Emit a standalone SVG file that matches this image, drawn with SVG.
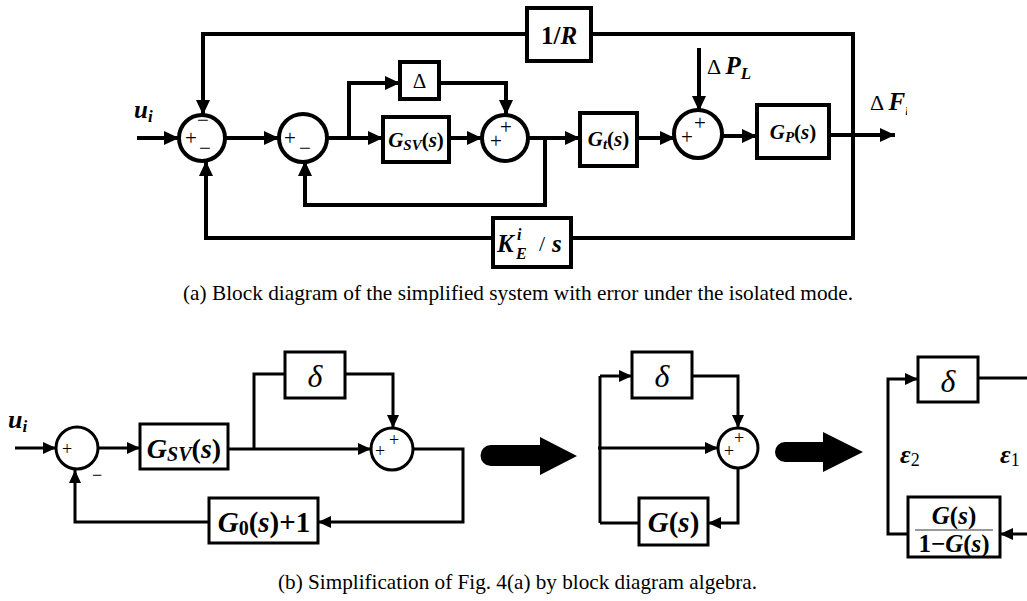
<svg xmlns="http://www.w3.org/2000/svg" width="1027" height="601" viewBox="0 0 1027 601" font-family="Liberation Serif, Times New Roman, serif">
<style>
.w{fill:none;stroke:#000;stroke-width:4}
.w3{fill:none;stroke:#000;stroke-width:3}
.box{fill:#fff;stroke:#000;stroke-width:4}
.box3{fill:#fff;stroke:#000;stroke-width:3}
text{font-family:'Liberation Serif',serif;fill:#000}
.b{font-weight:bold}
.i{font-style:italic}
.sg{font-size:21px}
.cap{font-size:21px}
</style>
<defs>
<marker id="a" markerUnits="userSpaceOnUse" markerWidth="15" markerHeight="14" refX="15" refY="7" orient="auto"><path d="M0,0 L15,7 L0,14 z" fill="#000"/></marker>
<marker id="a3" markerUnits="userSpaceOnUse" markerWidth="13" markerHeight="12" refX="13" refY="6" orient="auto"><path d="M0,0 L13,6 L0,12 z" fill="#000"/></marker>
<clipPath id="clipF"><rect x="860" y="80" width="47" height="40"/></clipPath>
</defs>

<!-- ===== (a) connectors ===== -->
<g id="connectors-a">
<path class="w" d="M137,138 H179" marker-end="url(#a)"/>
<path class="w" d="M226,138 H279" marker-end="url(#a)"/>
<path class="w" d="M327,138 H383" marker-end="url(#a)"/>
<path class="w" d="M349,138 V83 H400" marker-end="url(#a)"/>
<path class="w" d="M439,83 H506 V115" marker-end="url(#a)"/>
<path class="w" d="M449,138 H482" marker-end="url(#a)"/>
<path class="w" d="M528,138 H580" marker-end="url(#a)"/>
<path class="w" d="M545,138 V205 H305 V161" marker-end="url(#a)"/>
<path class="w" d="M637,138 H675" marker-end="url(#a)"/>
<path class="w" d="M699,48 V111" marker-end="url(#a)"/>
<path class="w" d="M721,136 H757" marker-end="url(#a)"/>
<path class="w" d="M829,135 H895" marker-end="url(#a)"/>
<path class="w" d="M853,135 V34 H591"/>
<path class="w" d="M527,34 H203 V115" marker-end="url(#a)"/>
<path class="w" d="M853,135 V238 H571"/>
<path class="w" d="M493,238 H206 V161" marker-end="url(#a)"/>
</g>

<!-- ===== (a) nodes ===== -->
<g id="sum1">
<circle class="w" cx="202" cy="138" r="23"/>
<text x="203" y="127" text-anchor="middle" class="sg">−</text>
<text x="191" y="145" text-anchor="middle" class="sg">+</text>
<text x="205" y="155" text-anchor="middle" class="sg">−</text>
</g>
<g id="sum2">
<circle class="w" cx="303" cy="138" r="24"/>
<text x="290" y="145" text-anchor="middle" class="sg">+</text>
<text x="305" y="155" text-anchor="middle" class="sg">−</text>
</g>
<g id="sum3">
<circle class="w" cx="505" cy="138" r="23"/>
<text x="496" y="148" text-anchor="middle" class="sg">+</text>
<text x="506" y="134" text-anchor="middle" class="sg">+</text>
</g>
<g id="sum4">
<circle class="w" cx="698" cy="134" r="24"/>
<text x="687" y="144" text-anchor="middle" class="sg">+</text>
<text x="700" y="130" text-anchor="middle" class="sg">+</text>
</g>
<g id="blk-1R">
<rect class="box" x="527" y="8" width="64" height="53"/>
<text x="559" y="44" text-anchor="middle" class="b" font-size="25">1/<tspan class="i">R</tspan></text>
</g>
<g id="blk-delta">
<rect class="box" x="400" y="62" width="39" height="37"/>
<text x="419.5" y="88" text-anchor="middle" font-size="21">Δ</text>
</g>
<g id="blk-gsv">
<rect class="box" x="383" y="117" width="66" height="45"/>
<text x="416" y="147" text-anchor="middle" class="b" font-size="21"><tspan class="i">G</tspan><tspan class="i" font-size="15" dy="3">SV</tspan><tspan dy="-3">(</tspan><tspan class="i">s</tspan>)</text>
</g>
<g id="blk-gt">
<rect class="box" x="580" y="113" width="57" height="53"/>
<text x="608.5" y="146" text-anchor="middle" class="b" font-size="21"><tspan class="i">G</tspan><tspan class="i" font-size="15" dy="3">t</tspan><tspan dy="-3">(</tspan><tspan class="i">s</tspan>)</text>
</g>
<g id="blk-gp">
<rect class="box" x="757" y="105" width="72" height="53"/>
<text x="793" y="139" text-anchor="middle" class="b" font-size="21"><tspan class="i">G</tspan><tspan class="i" font-size="15" dy="3">P</tspan><tspan dy="-3">(</tspan><tspan class="i">s</tspan>)</text>
</g>
<g id="blk-ke">
<rect class="box" x="493" y="218" width="78" height="49"/>
<text x="497" y="252" class="b i" font-size="25">K</text>
<text x="517" y="240" class="b i" font-size="16">i</text>
<text x="516" y="259" class="b i" font-size="16">E</text>
<text x="539" y="251" font-size="22">/</text>
<text x="552" y="252" class="b i" font-size="25">s</text>
</g>
<g id="lbl-ui-a">
<text x="134" y="118" class="b i" font-size="25">u<tspan font-size="17" dy="4">i</tspan></text>
</g>
<g id="lbl-dpl">
<text x="707" y="74" font-size="22">Δ <tspan class="b i" font-size="25">P</tspan><tspan class="b i" font-size="17" dy="5">L</tspan></text>
</g>
<g id="lbl-dfi" clip-path="url(#clipF)">
<text x="870" y="110" font-size="22">Δ <tspan class="b i" font-size="25">F</tspan><tspan class="b i" font-size="17" dy="5">i</tspan></text>
</g>

<text x="183" y="300" class="cap" textLength="670" lengthAdjust="spacingAndGlyphs">(a)  Block diagram of the simplified system with error under the isolated mode.</text>

<!-- ===== (b) connectors ===== -->
<g id="connectors-b">
<path class="w3" d="M15,448 H56" marker-end="url(#a3)"/>
<path class="w3" d="M98,448 H140" marker-end="url(#a3)"/>
<path class="w3" d="M228,449 H371" marker-end="url(#a3)"/>
<path class="w3" d="M254,449 V374 H285"/>
<path class="w3" d="M345,374 H393 V428" marker-end="url(#a3)"/>
<path class="w3" d="M413,449 H463 V522 H318" marker-end="url(#a3)"/>
<path class="w3" d="M209,522 H75 V470" marker-end="url(#a3)"/>

<path class="w3" d="M600,376 V523"/>
<path class="w3" d="M600,376 H632" marker-end="url(#a3)"/>
<path class="w3" d="M692,376 H738 V428" marker-end="url(#a3)"/>
<path class="w3" d="M598,448 H718" marker-end="url(#a3)"/>
<path class="w3" d="M738,468 V523 H708" marker-end="url(#a3)"/>
<path class="w3" d="M639,523 H600"/>

<path class="w3" d="M978,378 H1027"/>
<path class="w3" d="M908,534 H888 V379 H918" marker-end="url(#a3)"/>
<path class="w3" d="M1027,534 H1000" marker-end="url(#a3)"/>
</g>

<!-- big transformation arrows -->
<g id="big-arrows">
<path d="M491,445 H540 V437 L577,456 L540,475 V466 H491 A10.5,10.5 0 0 1 491,445 Z" fill="#000"/>
<path d="M785,442 H823 V432 L863,452 L823,472 V462 H785 A10,10 0 0 1 785,442 Z" fill="#000"/>
</g>

<!-- ===== (b) nodes ===== -->
<g id="lbl-ui-b">
<text x="8" y="428" class="b i" font-size="26">u<tspan font-size="17" dy="4">i</tspan></text>
</g>
<g id="sumA">
<circle class="w3" cx="77" cy="448" r="21"/>
<text x="67" y="455" text-anchor="middle" font-size="18">+</text>
<text x="97" y="481" text-anchor="middle" font-size="18">−</text>
</g>
<g id="blk-gsv-b">
<rect class="box3" x="140" y="424" width="88" height="45"/>
<text x="184" y="458" text-anchor="middle" class="b" font-size="28"><tspan class="i">G</tspan><tspan class="i" font-size="20" dy="3">SV</tspan><tspan dy="-3">(</tspan><tspan class="i">s</tspan>)</text>
</g>
<g id="blk-delta-b1">
<rect class="box3" x="285" y="352" width="60" height="46"/>
<text x="315" y="387" text-anchor="middle" class="i" font-size="32">δ</text>
</g>
<g id="sumB">
<circle class="w3" cx="392" cy="449" r="21"/>
<text x="380" y="457" text-anchor="middle" font-size="18">+</text>
<text x="394" y="446" text-anchor="middle" font-size="18">+</text>
</g>
<g id="blk-g0">
<rect class="box3" x="209" y="498" width="109" height="45"/>
<text x="264" y="532" text-anchor="middle" class="b" font-size="29"><tspan class="i">G</tspan><tspan font-size="20" dy="3">0</tspan><tspan dy="-3">(</tspan><tspan class="i">s</tspan>)+1</text>
</g>

<g id="blk-delta-b2">
<rect class="box3" x="632" y="352" width="60" height="46"/>
<text x="662" y="387" text-anchor="middle" class="i" font-size="32">δ</text>
</g>
<g id="sumC">
<circle class="w3" cx="738" cy="448" r="20"/>
<text x="729" y="457" text-anchor="middle" font-size="18">+</text>
<text x="739" y="444" text-anchor="middle" font-size="18">+</text>
</g>
<g id="blk-g">
<rect class="box3" x="639" y="498" width="69" height="47"/>
<text x="673.5" y="532" text-anchor="middle" class="b" font-size="29"><tspan class="i">G</tspan>(<tspan class="i">s</tspan>)</text>
</g>

<g id="blk-delta-b3">
<rect class="box3" x="918" y="357" width="60" height="45"/>
<text x="948" y="392" text-anchor="middle" class="i" font-size="32">δ</text>
</g>
<g id="blk-frac">
<rect class="box3" x="908" y="497" width="92" height="60"/>
<text x="954" y="524" text-anchor="middle" class="b" font-size="25"><tspan class="i">G</tspan>(<tspan class="i">s</tspan>)</text>
<line x1="915" y1="530" x2="993" y2="530" stroke="#777" stroke-width="1.5"/>
<text x="954" y="552" text-anchor="middle" class="b" font-size="25">1−<tspan class="i">G</tspan>(<tspan class="i">s</tspan>)</text>
</g>
<g id="lbl-eps">
<text x="900" y="463" class="b i" font-size="26">ε<tspan font-size="18" font-weight="normal" font-style="normal" dy="3">2</tspan></text>
<text x="1000" y="463" class="b i" font-size="26">ε<tspan font-size="18" font-weight="normal" font-style="normal" dy="3">1</tspan></text>
</g>

<text x="278" y="589" class="cap" textLength="479" lengthAdjust="spacingAndGlyphs">(b)  Simplification of Fig. 4(a) by block diagram algebra.</text>
</svg>
